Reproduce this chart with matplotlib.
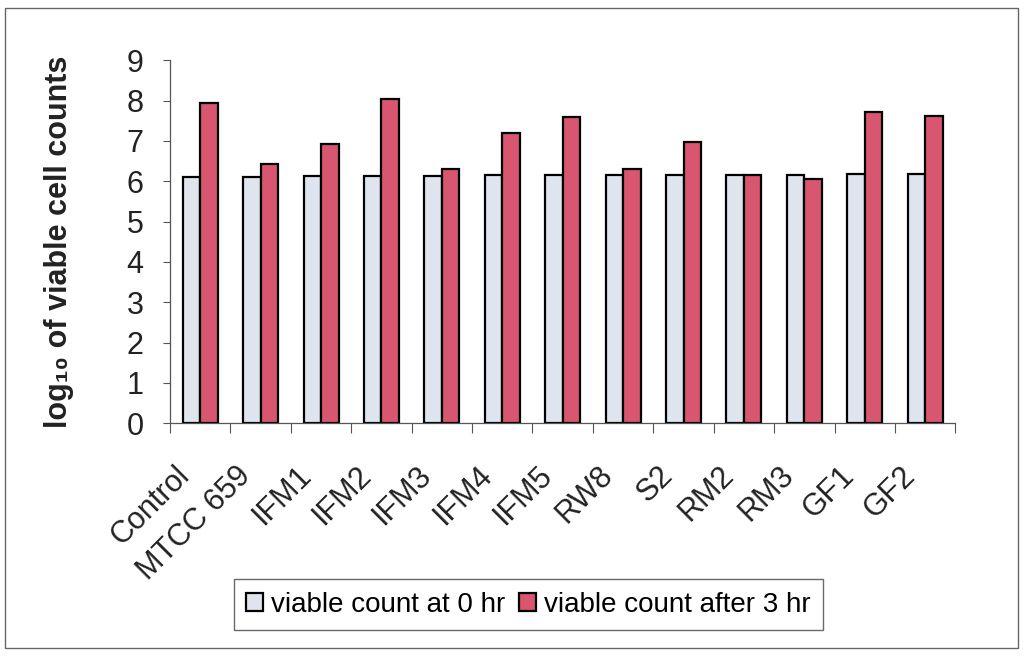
import numpy as np
import matplotlib
matplotlib.use("Agg")
import matplotlib.pyplot as plt
from matplotlib.patches import Rectangle

plt.rcParams['font.family'] = ['Liberation Sans', 'DejaVu Sans']

strains = ['Control', 'MTCC 659', 'IFM1', 'IFM2', 'IFM3', 'IFM4', 'IFM5',
           'RW8', 'S2', 'RM2', 'RM3', 'GF1', 'GF2']
count_0hr = [6.10, 6.11, 6.12, 6.13, 6.14, 6.15, 6.16,
             6.15, 6.15, 6.16, 6.16, 6.17, 6.18]
count_3hr = [7.95, 6.44, 6.93, 8.03, 6.30, 7.19, 7.59,
             6.30, 6.98, 6.16, 6.05, 7.72, 7.62]

fig = plt.figure(figsize=(10.24, 6.56), dpi=100)
ax = fig.add_axes([0.166, 0.355, 0.767, 0.553])

x = np.arange(len(strains))
w = 0.29
ax.bar(x - w/2, count_0hr, w, color='#dfe5ef', edgecolor='black', linewidth=1.6,
       label='viable count at 0 hr')
ax.bar(x + w/2, count_3hr, w, color='#d8566f', edgecolor='black', linewidth=1.6,
       label='viable count after 3 hr')

ax.set_xlim(-0.5, len(strains) - 0.5)
ax.set_ylim(0, 9)
ax.set_yticks(range(0, 10))
ax.tick_params(axis='y', labelsize=22, length=5, width=0.8, color='#555555',
               pad=14, labelcolor='#222222')

# category ticks sit between the groups; slanted labels hang left of centre
ax.set_xticks(np.arange(len(strains) + 1) - 0.5)
ax.set_xticklabels([])
ax.set_xticks(x - 0.42, minor=True)
ax.set_xticklabels(strains, minor=True, rotation=45, ha='right',
                   rotation_mode='anchor', fontsize=22, color='#222222')
ax.tick_params(axis='x', which='major', length=7, width=0.8, color='#555555')
ax.tick_params(axis='x', which='minor', length=0, pad=27)

for s in ['top', 'right']:
    ax.spines[s].set_visible(False)
for s in ['left', 'bottom']:
    ax.spines[s].set_color('#555555')
    ax.spines[s].set_linewidth(0.9)

ax.set_ylabel('log₁₀ of viable cell counts', fontsize=22, fontweight='bold',
              labelpad=38, color='#222222')

fig.legend(loc='center', bbox_to_anchor=(0.516, 0.078), ncol=2, fontsize=20,
           frameon=True, fancybox=False, edgecolor='#444444',
           handlelength=0.6, handleheight=0.6, handletextpad=0.3,
           columnspacing=0.5, borderpad=0.45, borderaxespad=0)

fig.patches.append(Rectangle((5/1024, 8/656), 1013/1024, 640/656,
                             transform=fig.transFigure, fill=False,
                             edgecolor='#666666', linewidth=1.0))

fig.savefig('out.png', dpi=100)
